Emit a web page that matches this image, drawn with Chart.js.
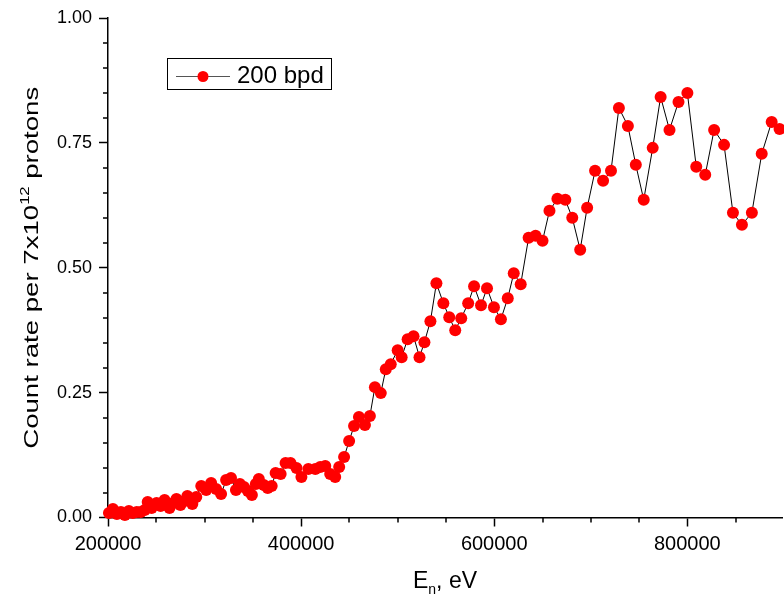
<!DOCTYPE html>
<html>
<head>
<meta charset="utf-8">
<script src="https://cdn.jsdelivr.net/npm/chart.js@4.4.1/dist/chart.umd.min.js"></script>
<style>
  html, body { margin: 0; padding: 0; overflow: hidden; background: #fff; }
</style>
</head>
<body>
<canvas id="chart-canvas" width="788" height="601"></canvas>
<script>
const ctx = document.getElementById('chart-canvas');

const FONT = "'Liberation Sans', Arial, sans-serif";

// Neutron energy, eV
const energy = [
  201000, 205100, 209200, 213400, 217500, 221600, 225700, 229800, 233900, 238000,
  241100, 245200, 250300, 254500, 258600, 263700, 267800, 270900, 275000, 279100,
  282200, 287300, 291400, 296600, 301700, 306800, 312000, 317100, 322300, 327400,
  332500, 336600, 340800, 344900, 349000, 353100, 356200, 361300, 365400, 369500,
  373600, 378800, 383900, 389000, 395200, 400300, 407500, 414700, 419800, 425000,
  430100, 435300, 439400, 444500, 449700, 454800, 459900, 466100, 471200, 476400,
  482500, 487700, 492800, 500000, 504100, 510300, 516400, 522600, 527700, 533900,
  540100, 547300, 553400, 559600, 565800, 573000, 579100, 586300, 592500, 599700,
  606900, 614000, 620200, 627400, 635600, 642800, 650000, 657200, 665400, 673600,
  680800, 689000, 696200, 704400, 712700, 720900, 729100, 738400, 746600, 754800,
  764100, 772300, 781500, 790800, 800000, 809200, 818500, 827700, 838000, 847200,
  856500, 866800, 877000, 887300, 895500
];

// Count rate per 7x10^12 protons, 200 bpd
const countRate = [
  0.009, 0.017, 0.007, 0.011, 0.005, 0.013, 0.009, 0.011, 0.011, 0.015,
  0.031, 0.019, 0.029, 0.023, 0.035, 0.019, 0.029, 0.037, 0.025, 0.033,
  0.043, 0.027, 0.041, 0.063, 0.055, 0.069, 0.057, 0.047, 0.075, 0.079,
  0.055, 0.067, 0.061, 0.053, 0.045, 0.067, 0.077, 0.065, 0.059, 0.063,
  0.089, 0.087, 0.109, 0.109, 0.099, 0.081, 0.097, 0.097, 0.101, 0.103,
  0.087, 0.081, 0.101, 0.121, 0.153, 0.183, 0.201, 0.185, 0.203, 0.261,
  0.249, 0.297, 0.307, 0.335, 0.321, 0.357, 0.363, 0.321, 0.351, 0.393,
  0.469, 0.429, 0.401, 0.375, 0.399, 0.429, 0.463, 0.425, 0.459, 0.421,
  0.397, 0.439, 0.489, 0.467, 0.560, 0.564, 0.554, 0.614, 0.638, 0.636,
  0.600, 0.536, 0.620, 0.694, 0.674, 0.694, 0.820, 0.784, 0.706, 0.636,
  0.740, 0.842, 0.776, 0.832, 0.850, 0.702, 0.686, 0.776, 0.746, 0.610,
  0.586, 0.610, 0.728, 0.792, 0.778
];

const seriesLabel = '200 bpd';

const x_range = [200000, 898000];
const x_ticks = [200000, 400000, 600000, 800000];
const x_minor = 50000;
const y_range = [0, 1];
const y_ticks = [0, 0.25, 0.5, 0.75, 1];
const y_minor = 0.05;

// short outward ticks between the labelled ones
const minor_ticks = {
  id: 'minor_ticks',
  afterDraw(chart) {
    const { ctx, scales: { x, y } } = chart;
    ctx.save();
    ctx.strokeStyle = '#000';
    ctx.lineWidth = 1.5;
    ctx.beginPath();
    for (let v = x_range[0]; v <= x_range[1]; v += x_minor) {
      if (x_ticks.includes(v)) continue;
      const px = Math.round(x.getPixelForValue(v));
      ctx.moveTo(px, x.top);
      ctx.lineTo(px, x.top + 5);
    }
    for (let i = 0; i * y_minor <= y_range[1] + 1e-9; i++) {
      if (i % 5 === 0) continue;
      const py = Math.round(y.getPixelForValue(i * y_minor));
      ctx.moveTo(y.right, py);
      ctx.lineTo(y.right - 5, py);
    }
    ctx.stroke();
    ctx.restore();
  }
};

// draws a run of [text, size, shift] pieces starting at x
function draw_pieces(ctx, pieces, x, y) {
  pieces.forEach(([text, size, shift]) => {
    ctx.font = `${size}px ${FONT}`;
    ctx.fillText(text, x, y + shift);
    x += ctx.measureText(text).width;
  });
}

function pieces_width(ctx, pieces) {
  return pieces.reduce((w, [text, size]) => {
    ctx.font = `${size}px ${FONT}`;
    return w + ctx.measureText(text).width;
  }, 0);
}

const axis_titles = {
  id: 'axis_titles',
  afterDraw(chart) {
    const { ctx, chartArea } = chart;
    ctx.save();
    ctx.fillStyle = '#000';
    ctx.textBaseline = 'alphabetic';
    ctx.textAlign = 'left';

    const xt = [['E', 23, 0], ['n', 14, 6], [', eV', 23, 0]];
    const xw = pieces_width(ctx, xt);
    draw_pieces(ctx, xt, (chartArea.left + chartArea.right) / 2 - xw / 2, 588);

    // the y title runs long and narrow
    const yt = [['Count rate per 7x10', 20, 0], ['12', 12, -9], [' protons', 20, 0]];
    const yw = pieces_width(ctx, yt);
    const stretch = 362 / yw;
    ctx.translate(38, (chartArea.top + chartArea.bottom) / 2);
    ctx.rotate(-Math.PI / 2);
    ctx.scale(stretch, 1);
    draw_pieces(ctx, yt, -yw / 2, 0);
    ctx.restore();
  }
};

const boxed_legend = {
  id: 'boxed_legend',
  afterDraw(chart) {
    const { ctx } = chart;
    ctx.save();
    ctx.strokeStyle = '#000';
    ctx.lineWidth = 1;
    ctx.strokeRect(167.5, 58.5, 164, 31);
    ctx.strokeStyle = '#555';
    ctx.beginPath();
    ctx.moveTo(176, 76.5);
    ctx.lineTo(230, 76.5);
    ctx.stroke();
    ctx.fillStyle = '#ff0000';
    ctx.beginPath();
    ctx.arc(203, 76.5, 5.5, 0, Math.PI * 2);
    ctx.fill();
    ctx.fillStyle = '#000';
    ctx.font = `24px ${FONT}`;
    ctx.textBaseline = 'middle';
    ctx.fillText(seriesLabel, 237, 76);
    ctx.restore();
  }
};

const chart = new Chart(ctx, {
  type: 'line',
  data: {
    datasets: [
      {
        label: seriesLabel,
        data: energy.map((e, i) => ({ x: e, y: countRate[i] })),
        borderColor: '#000',
        borderWidth: 1,
        pointBackgroundColor: '#ff0000',
        pointBorderColor: '#ff0000',
        pointBorderWidth: 0,
        pointRadius: 6,
        clip: false,
        tension: 0
      }
    ]
  },
  options: {
    responsive: false,
    animation: false,
    devicePixelRatio: 1,
    layout: { padding: { top: 18, right: 0, left: 0, bottom: 0 } },
    plugins: {
      legend: { display: false },
      tooltip: { enabled: false }
    },
    scales: {
      x: {
        type: 'linear',
        min: x_range[0],
        max: x_range[1],
        grid: { drawOnChartArea: false, tickLength: 9, tickColor: '#000', tickWidth: 1.5 },
        border: { color: '#000', width: 1.5 },
        ticks: {
          autoSkip: false,
          maxRotation: 0,
          padding: 6,
          color: '#000',
          font: { family: FONT, size: 20 },
          callback: v => String(v)
        },
        afterBuildTicks: s => { s.ticks = x_ticks.map(v => ({ value: v })); },
        afterFit: s => { s.height = 83.5; s.paddingRight = 0; }
      },
      y: {
        min: y_range[0],
        max: y_range[1],
        grid: { drawOnChartArea: false, tickLength: 9, tickColor: '#000', tickWidth: 1.5 },
        border: { color: '#000', width: 1.5 },
        ticks: {
          padding: 7,
          color: '#000',
          font: { family: FONT, size: 18 },
          callback: v => v.toFixed(2)
        },
        afterBuildTicks: s => { s.ticks = y_ticks.map(v => ({ value: v })); },
        afterFit: s => { s.width = 108; }
      }
    }
  },
  plugins: [minor_ticks, axis_titles, boxed_legend]
});
</script>
</body>
</html>
